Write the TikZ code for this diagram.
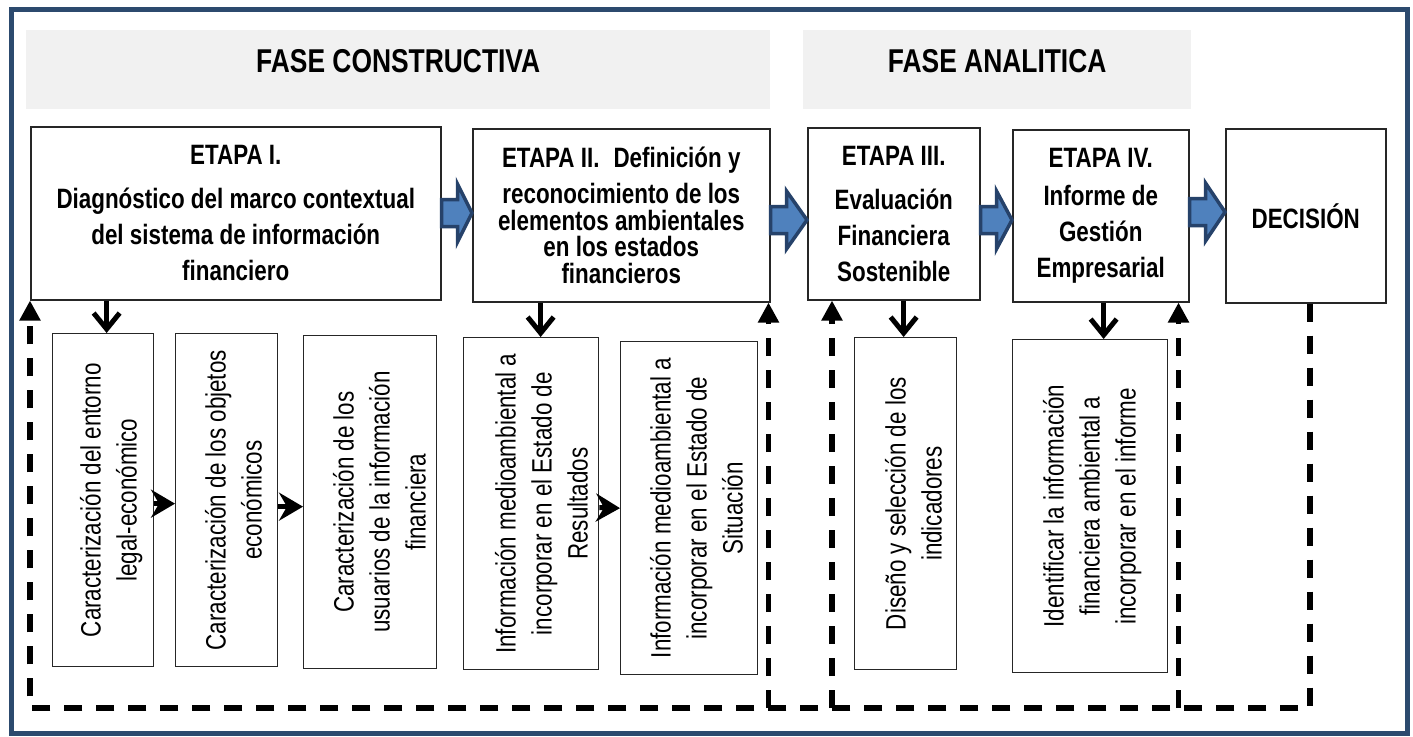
\documentclass[tikz,border=0pt]{standalone}
\usepackage{fontspec}
\setmainfont{Liberation Sans}[FakeStretch=0.8]
\usetikzlibrary{arrows.meta,calc}
\definecolor{frameblue}{HTML}{2C4A6E}
\definecolor{arrowfill}{HTML}{4F81BD}
\definecolor{arrowline}{HTML}{26426A}
\definecolor{bandgray}{HTML}{F1F1F1}
\newcommand\rtext[2]{\hspace*{#1}\rotatebox{90}{\begin{tabular}{@{}c@{}}#2\end{tabular}}}
\newcommand\barr[3]{%
  \coordinate (yl) at (0,#3);
  \coordinate (ba) at (#1.east |- yl);
  \draw[barrow] ($(ba)+(0,-13.5)$) -- ($(ba)+(16,-13.5)$) -- ($(ba)+(16,-29)$) -- (#2.west |- yl)
     -- ($(ba)+(16,29)$) -- ($(ba)+(16,13.5)$) -- ($(ba)+(0,13.5)$) -- cycle;}
\begin{document}
\begin{tikzpicture}[x=1pt,y=-1pt,
  stagebox/.style={draw=black!85, line width=1.5pt, fill=white, inner sep=0pt, anchor=north west, align=center, font=\fontsize{28}{36}\selectfont\bfseries},
  subbox/.style={draw=black!85, line width=1.3pt, fill=white, inner sep=0pt, anchor=north west, font=\fontsize{28}{36}\selectfont},
  band/.style={fill=bandgray, inner sep=0pt, anchor=north west},
  title/.style={font=\fontsize{33}{40}\selectfont\bfseries, anchor=base, inner sep=0pt},
  barrow/.style={fill=arrowfill, draw=arrowline, line width=3.5pt, line join=miter},
  downarr/.style={line width=5pt, -{Straight Barb[length=16pt,width=26pt]}},
  sidearr/.style={line width=5pt, -{Stealth[length=24pt,width=28pt,inset=8pt]}},
  dashline/.style={line width=5.5pt, dash pattern=on 18pt off 14pt},
  dashup/.style={dashline, -{Triangle[length=20pt,width=20pt]}},
]
\useasboundingbox (0,0) rectangle (1413,736);
% outer frame
\draw[frameblue, line width=5pt] (11,9.5) rectangle (1407,733.5);
% phase bands
\node[band, minimum width=744pt, minimum height=79pt] (F1) at (26,30) {};
\node[band, minimum width=388pt, minimum height=79pt] (F2) at (803,30) {};
\node[title] (T1) at ($(F1.center)+(0,3.2)$) {FASE CONSTRUCTIVA};
\node[title] (T2) at ($(F2.center)+(0,3.2)$) {FASE ANALITICA};
% stage boxes
\node[stagebox, minimum width=410pt, minimum height=173pt] (E1) at (30,126)
  {ETAPA I.\\[8pt] Diagnóstico del marco contextual\\ del sistema de información\\ financiero};
\node[stagebox, minimum width=297pt, minimum height=173pt, font=\fontsize{28}{26.5}\selectfont\bfseries] (E2) at (472,128)
  {ETAPA II.\enspace Definición y\\[9.5pt] reconocimiento de los\\ elementos ambientales\\ en los estados\\ financieros};
\node[stagebox, minimum width=172pt, minimum height=172pt] (E3) at (807,127)
  {ETAPA III.\\[8pt] Evaluación\\ Financiera\\ Sostenible};
\node[stagebox, minimum width=176pt, minimum height=172pt] (E4) at (1012,129)
  {ETAPA IV.\\[2pt] Informe de\\ Gestión\\ Empresarial};
\node[stagebox, minimum width=160pt, minimum height=174pt] (DEC) at (1225,128) {DECISIÓN};
% sub boxes
\node[subbox, minimum width=101pt, minimum height=333pt] (B1) at (52,333)
  {\rtext{16.6pt}{Caracterización del entorno\\ legal-económico}};
\node[subbox, minimum width=102pt, minimum height=333pt] (B2) at (175,333)
  {\rtext{19.6pt}{Caracterización de los objetos\\ económicos}};
\node[subbox, minimum width=133pt, minimum height=333pt] (B3) at (303,335)
  {\rtext{24.6pt}{Caracterización de los\\ usuarios de la información\\ financiera}};
\node[subbox, minimum width=135pt, minimum height=332pt] (B4) at (463,337)
  {\rtext{26.6pt}{Información medioambiental a\\ incorporar en el Estado de\\ Resultados}};
\node[subbox, minimum width=137pt, minimum height=333pt] (B5) at (620,341)
  {\rtext{20.6pt}{Información medioambiental a\\ incorporar en el Estado de\\ Situación}};
\node[subbox, minimum width=102pt, minimum height=332pt] (B6) at (854,337)
  {\rtext{21.6pt}{Diseño y selección de los\\ indicadores}};
\node[subbox, minimum width=155pt, minimum height=333pt] (B7) at (1012,339)
  {\rtext{4.6pt}{Identificar la información\\ financiera ambiental a\\ incorporar en el informe}};
% block arrows
\barr{E1}{E2}{213}
\barr{E2}{E3}{220}
\barr{E3}{E4}{220}
\barr{E4}{DEC}{212}
% down arrows
\coordinate (d1) at ([xshift=3.5pt]B1.north);
\coordinate (d4) at ([xshift=9.5pt]B4.north);
\coordinate (d6) at ([xshift=-2pt]B6.north);
\coordinate (d7) at ([xshift=13.5pt]B7.north);
\draw[downarr] (d1 |- E1.south) -- (d1);
\draw[downarr] (d4 |- E2.south) -- (d4);
\draw[downarr] (d6 |- E3.south) -- (d6);
\draw[downarr] (d7 |- E4.south) -- (d7);
% side arrows
\draw[sidearr] ([yshift=-3.5pt]B1.east) -- ([yshift=-3.5pt]B2.west);
\draw[sidearr] ([yshift=-6.5pt]B2.east) -- ([yshift=-4.5pt]B3.west);
\draw[sidearr] ([yshift=-4pt]B4.east) -- ([yshift=0pt]B5.west);
% dashed feedback
\coordinate (L) at (30,708);
\coordinate (dd) at ([xshift=4pt]DEC.south);
\coordinate (t2) at ([xshift=-2pt]E2.south east);
\coordinate (t3) at ([xshift=25pt]E3.south west);
\coordinate (t4) at ([xshift=-11pt]E4.south east);
\draw[dashup] (dd) -- (dd |- L) -- (L) -- (L |- E1.south);
\draw[dashup] (t2 |- L) -- (t2);
\draw[dashup] (t3 |- L) -- (t3);
\draw[dashup] (t4 |- L) -- (t4);
\end{tikzpicture}
\end{document}
